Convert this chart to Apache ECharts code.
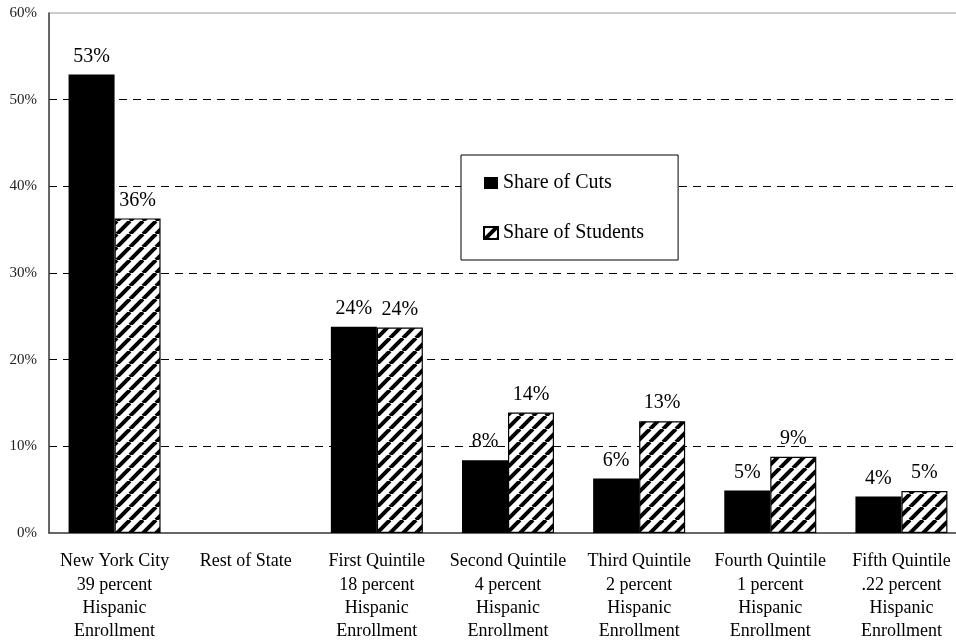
<!DOCTYPE html>
<html>
<head>
<meta charset="utf-8">
<script src="https://cdn.jsdelivr.net/npm/echarts@6/dist/echarts.min.js"></script>
<style>html,body{margin:0;padding:0;background:#fff}#c{width:956px;height:643px}</style>
</head>
<body>
<div id="c"></div>
<script>
var categories = [
  'New York City\n39 percent\nHispanic\nEnrollment',
  'Rest of State',
  'First Quintile\n18 percent\nHispanic\nEnrollment',
  'Second Quintile\n4 percent\nHispanic\nEnrollment',
  'Third Quintile\n2 percent\nHispanic\nEnrollment',
  'Fourth Quintile\n1 percent\nHispanic\nEnrollment',
  'Fifth Quintile\n.22 percent\nHispanic\nEnrollment'
];
var shareOfCuts = [52.9, null, 23.8, 8.4, 6.3, 4.9, 4.2];
var shareOfStudents = [36.3, null, 23.7, 13.9, 12.9, 8.8, 4.85];
var yTicks = [0, 10, 20, 30, 40, 50, 60];

var FONT = '"Liberation Serif", "Times New Roman", serif';

function hatch() {
  var s = 13;
  var cv = document.createElement('canvas');
  cv.width = s; cv.height = s;
  var ctx = cv.getContext('2d');
  ctx.fillStyle = '#fff';
  ctx.fillRect(0, 0, s, s);
  ctx.strokeStyle = '#000';
  ctx.lineWidth = 4;
  [-s, 0, s].forEach(function (k) {
    ctx.beginPath();
    ctx.moveTo(k, s);
    ctx.lineTo(k + s, 0);
    ctx.stroke();
  });
  return cv;
}

var chart = echarts.init(document.getElementById('c'), null, { renderer: 'canvas' });
var labelCfg = {
  show: true,
  position: 'top',
  distance: 8,
  fontFamily: FONT,
  fontSize: 20,
  color: '#000',
  formatter: function (p) { return p.value == null ? '' : Math.round(p.value) + '%'; }
};
chart.setOption({
  animation: false,
  backgroundColor: '#fff',
  grid: {
    left: 49, width: 918, top: 13, bottom: 110,
    outerBoundsMode: 'none',
    containLabel: false,
    show: true, borderColor: '#999', borderWidth: 1, backgroundColor: 'transparent'
  },
  legend: {
    left: 461, top: 155,
    orient: 'vertical',
    itemGap: 30,
    icon: 'rect',
    itemWidth: 14, itemHeight: 12,
    padding: [18, 34, 17, 22],
    backgroundColor: '#fff',
    borderColor: '#000', borderWidth: 1,
    textStyle: { fontFamily: FONT, fontSize: 20, lineHeight: 20, color: '#000' },
    data: ['Share of Cuts', 'Share of Students']
  },
  xAxis: {
    type: 'category',
    data: categories,
    axisLine: { show: true, lineStyle: { color: '#444', width: 1.5 } },
    axisTick: { show: false },
    axisLabel: {
      interval: 0, margin: 17,
      fontFamily: FONT, fontSize: 18, lineHeight: 23.3, color: '#000', align: 'center'
    },
    splitLine: { show: false }
  },
  yAxis: {
    type: 'value',
    min: yTicks[0], max: yTicks[yTicks.length - 1], interval: 10,
    axisLine: { show: true, lineStyle: { color: '#444', width: 1.5 } },
    axisTick: { show: false },
    axisLabel: { formatter: '{value}%', fontFamily: FONT, fontSize: 15, color: '#222', margin: 12 },
    splitLine: { show: true, showMaxLine: false, showMinLine: false, lineStyle: { color: '#000', type: [8, 6], width: 1 } }
  },
  series: [
    {
      name: 'Share of Cuts', type: 'bar', data: shareOfCuts,
      barWidth: 46, barGap: '0%',
      itemStyle: { color: '#000' },
      label: labelCfg
    },
    {
      name: 'Share of Students', type: 'bar', data: shareOfStudents,
      barWidth: 46, barGap: '0%',
      itemStyle: { color: { image: hatch(), repeat: 'repeat' }, borderColor: '#000', borderWidth: 1.2 },
      label: labelCfg
    }
  ]
});
</script>
</body>
</html>
